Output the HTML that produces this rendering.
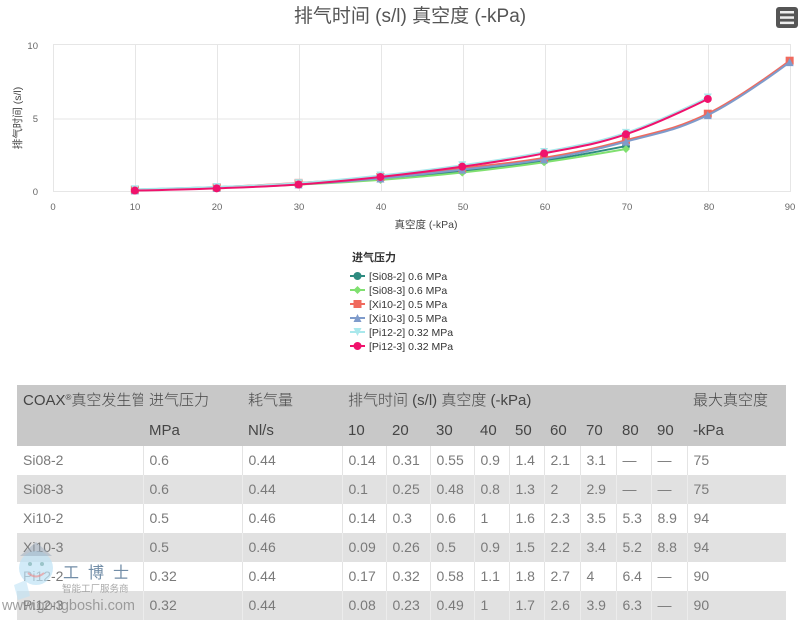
<!DOCTYPE html>
<html><head><meta charset="utf-8">
<style>
html,body{margin:0;padding:0;background:#fff;}
body{width:800px;height:625px;position:relative;overflow:hidden;font-family:"Liberation Sans","Noto Sans CJK SC",sans-serif;}
svg text{font-family:"Liberation Sans","Noto Sans CJK SC",sans-serif;}
#tbl{position:absolute;left:17px;top:385px;border-collapse:collapse;table-layout:fixed;width:769px;}
#tbl td{padding:0 0 0 6px;white-space:nowrap;overflow:hidden;font-size:14px;color:#7a7a7a;height:29px;line-height:29px;font-weight:300;box-sizing:border-box;}
#tbl tr{height:29px;}
#tbl tr.h td{background:#c8c8c8;color:#454545;font-size:15px;border:none;}
#tbl tr.h1{height:31px;}
#tbl tr.h1 td{height:31px;line-height:31px;}
#tbl tr.h2{height:30px;}
#tbl tr.h2 td{height:30px;line-height:30px;}
#tbl tr.w td{background:#fff;border-left:1px solid #e4e4e4;}
#tbl tr.g td{background:#e1e1e1;border-left:1px solid #ececec;}
#tbl tr.w td:first-child,#tbl tr.g td:first-child{border-left:none;}
.reg{font-size:8px;position:relative;top:-5px;line-height:0;}
.wm{position:absolute;pointer-events:none;}
</style></head><body>
<svg id="chart" width="800" height="370" style="position:absolute;left:0;top:0" xmlns="http://www.w3.org/2000/svg">
<text x="410" y="22" text-anchor="middle" font-size="19" fill="#555">排气时间 (s/l) 真空度 (-kPa)</text>
<rect x="776" y="7" width="22" height="21" rx="3" fill="#555"/>
<rect x="780" y="11" width="14" height="2.5" fill="#eee"/>
<rect x="780" y="16.3" width="14" height="2.5" fill="#eee"/>
<rect x="780" y="21.6" width="14" height="2.5" fill="#eee"/>
<g stroke="#e6e6e6" stroke-width="1">
<line x1="53" y1="44.5" x2="790" y2="44.5"/>
<line x1="53" y1="119" x2="790" y2="119"/>
<line x1="53" y1="191.5" x2="790" y2="191.5"/>
<line x1="53.5" y1="44" x2="53.5" y2="192"/>
<line x1="135.5" y1="44" x2="135.5" y2="192"/>
<line x1="217.5" y1="44" x2="217.5" y2="192"/>
<line x1="299.5" y1="44" x2="299.5" y2="192"/>
<line x1="381.5" y1="44" x2="381.5" y2="192"/>
<line x1="463.5" y1="44" x2="463.5" y2="192"/>
<line x1="545.5" y1="44" x2="545.5" y2="192"/>
<line x1="626.5" y1="44" x2="626.5" y2="192"/>
<line x1="708.5" y1="44" x2="708.5" y2="192"/>
<line x1="790.5" y1="44" x2="790.5" y2="192"/>
</g>
<g font-size="9.5" fill="#666" text-anchor="end">
<text x="38" y="49">10</text>
<text x="38" y="122">5</text>
<text x="38" y="195">0</text>
</g>
<g font-size="9.5" fill="#666" text-anchor="middle">
<text x="53" y="210">0</text>
<text x="135" y="210">10</text>
<text x="217" y="210">20</text>
<text x="299" y="210">30</text>
<text x="381" y="210">40</text>
<text x="463" y="210">50</text>
<text x="545" y="210">60</text>
<text x="627" y="210">70</text>
<text x="709" y="210">80</text>
<text x="790" y="210">90</text>
</g>
<text x="426" y="228" text-anchor="middle" font-size="10.5" fill="#444">真空度 (-kPa)</text>
<text transform="translate(21,118) rotate(-90)" text-anchor="middle" font-size="10.5" fill="#444">排气时间 (s/l)</text>
<g id="series"></g>
<text x="352" y="261" font-size="11" font-weight="bold" fill="#333">进气压力</text>
<g id="legend"></g>
<g font-size="10.5" fill="#333">
<text x="369" y="280">[Si08-2] 0.6 MPa</text>
<text x="369" y="294">[Si08-3] 0.6 MPa</text>
<text x="369" y="308">[Xi10-2] 0.5 MPa</text>
<text x="369" y="322">[Xi10-3] 0.5 MPa</text>
<text x="369" y="336">[Pi12-2] 0.32 MPa</text>
<text x="369" y="350">[Pi12-3] 0.32 MPa</text>
</g>
</svg>

<table id="tbl">
<colgroup><col style="width:126px"><col style="width:99px"><col style="width:100px"><col style="width:44px"><col style="width:44px"><col style="width:44px"><col style="width:35px"><col style="width:35px"><col style="width:36px"><col style="width:36px"><col style="width:35px"><col style="width:36px"><col style="width:99px"></colgroup>
<tr class="h h1"><td>COAX<span class="reg">®</span>真空发生管</td><td>进气压力</td><td>耗气量</td><td colspan="9">排气时间 (s/l) 真空度 (-kPa)</td><td>最大真空度</td></tr>
<tr class="h h2"><td></td><td>MPa</td><td>Nl/s</td><td>10</td><td>20</td><td>30</td><td>40</td><td>50</td><td>60</td><td>70</td><td>80</td><td>90</td><td>-kPa</td></tr>
<tr class="w"><td>Si08-2</td><td>0.6</td><td>0.44</td><td>0.14</td><td>0.31</td><td>0.55</td><td>0.9</td><td>1.4</td><td>2.1</td><td>3.1</td><td>—</td><td>—</td><td>75</td></tr>
<tr class="g"><td>Si08-3</td><td>0.6</td><td>0.44</td><td>0.1</td><td>0.25</td><td>0.48</td><td>0.8</td><td>1.3</td><td>2</td><td>2.9</td><td>—</td><td>—</td><td>75</td></tr>
<tr class="w"><td>Xi10-2</td><td>0.5</td><td>0.46</td><td>0.14</td><td>0.3</td><td>0.6</td><td>1</td><td>1.6</td><td>2.3</td><td>3.5</td><td>5.3</td><td>8.9</td><td>94</td></tr>
<tr class="g"><td>Xi10-3</td><td>0.5</td><td>0.46</td><td>0.09</td><td>0.26</td><td>0.5</td><td>0.9</td><td>1.5</td><td>2.2</td><td>3.4</td><td>5.2</td><td>8.8</td><td>94</td></tr>
<tr class="w"><td>Pi12-2</td><td>0.32</td><td>0.44</td><td>0.17</td><td>0.32</td><td>0.58</td><td>1.1</td><td>1.8</td><td>2.7</td><td>4</td><td>6.4</td><td>—</td><td>90</td></tr>
<tr class="g"><td>Pi12-3</td><td>0.32</td><td>0.44</td><td>0.08</td><td>0.23</td><td>0.49</td><td>1</td><td>1.7</td><td>2.6</td><td>3.9</td><td>6.3</td><td>—</td><td>90</td></tr>
</table>

<!-- watermark -->
<svg class="wm" style="left:0;top:530px" width="160" height="95" xmlns="http://www.w3.org/2000/svg">
<circle cx="36" cy="38" r="17" fill="#bfe3f5" opacity="0.7"/>
<circle cx="30" cy="34" r="2" fill="#7aa" opacity="0.6"/>
<circle cx="42" cy="34" r="2" fill="#7aa" opacity="0.6"/>
<path d="M28 43 Q36 50 44 43" stroke="#e88" stroke-width="2" fill="none" opacity="0.6"/>
<path d="M20 26 L36 12 L52 26 Z" fill="#9ab" opacity="0.5"/>
<path d="M14 55 L26 50 L30 66 L18 70 Z" fill="#bfe3f5" opacity="0.6"/>
<text x="63" y="48" font-size="16" fill="#5a7a98" opacity="0.85" letter-spacing="9" font-family="Noto Sans CJK SC, sans-serif">工博士</text>
<text x="62" y="62" font-size="9.5" fill="#999" opacity="0.85" font-family="Noto Sans CJK SC, sans-serif">智能工厂服务商</text>
<text x="2" y="80" font-size="14.5" fill="#8a8a8a" opacity="0.8" font-family="DejaVu Sans, sans-serif">www.gongboshi.com</text>
</svg>

<script>
(function(){
var X=function(v){return 53+v*8.185;};
var Y=function(v){return 191.7-v*14.72;};
var xs=[10,20,30,40,50,60,70,80,90];
var S=[
 {c:'#2e8b80',s:'circle',d:[0.14,0.31,0.55,0.9,1.4,2.1,3.1]},
 {c:'#80e070',s:'diamond',d:[0.1,0.25,0.48,0.8,1.3,2,2.9]},
 {c:'#f06a5e',s:'square',d:[0.14,0.3,0.6,1,1.6,2.3,3.5,5.3,8.9]},
 {c:'#7f9bcb',s:'triangle',d:[0.09,0.26,0.5,0.9,1.5,2.2,3.4,5.2,8.8]},
 {c:'#a9e8ec',s:'tdown',d:[0.17,0.32,0.58,1.1,1.8,2.7,4,6.4]},
 {c:'#f0126c',s:'circle',d:[0.08,0.23,0.49,1,1.7,2.6,3.9,6.3]}
];
var NS='http://www.w3.org/2000/svg';
function el(n,a,p){var e=document.createElementNS(NS,n);for(var k in a)e.setAttribute(k,a[k]);p.appendChild(e);return e;}
function spline(pts){
 var sm=1.5,den=2.5,d='M'+pts[0].x+' '+pts[0].y;
 for(var i=1;i<pts.length;i++){
  var p=pts[i],l=pts[i-1],n=pts[i+1],lcx=p.x,lcy=p.y;
  if(n){
   lcx=(sm*p.x+l.x)/den;lcy=(sm*p.y+l.y)/den;
   var rcx=(sm*p.x+n.x)/den,rcy=(sm*p.y+n.y)/den;
   var corr=((rcy-lcy)*(rcx-p.x))/(rcx-lcx)+p.y-rcy;
   lcy+=corr;rcy+=corr;
   if(lcy>Math.max(l.y,p.y)){lcy=Math.max(l.y,p.y);rcy=2*p.y-lcy;}
   else if(lcy<Math.min(l.y,p.y)){lcy=Math.min(l.y,p.y);rcy=2*p.y-lcy;}
   if(rcy>Math.max(n.y,p.y)){rcy=Math.max(n.y,p.y);lcy=2*p.y-rcy;}
   else if(rcy<Math.min(n.y,p.y)){rcy=Math.min(n.y,p.y);lcy=2*p.y-rcy;}
   p.rcx=rcx;p.rcy=rcy;
  }
  d+=' C'+(l.rcx!==undefined?l.rcx:l.x)+' '+(l.rcy!==undefined?l.rcy:l.y)+' '+lcx+' '+lcy+' '+p.x+' '+p.y;
 }
 return d;
}
function marker(g,s,x,y,c,r){
 r=r||4;
 if(s==='circle')el('circle',{cx:x,cy:y,r:r,fill:c},g);
 else if(s==='square')el('rect',{x:x-r,y:y-r,width:2*r,height:2*r,fill:c},g);
 else if(s==='diamond')el('path',{d:'M'+x+' '+(y-r)+' L'+(x+r)+' '+y+' L'+x+' '+(y+r)+' L'+(x-r)+' '+y+'Z',fill:c},g);
 else if(s==='triangle')el('path',{d:'M'+x+' '+(y-r)+' L'+(x+r)+' '+(y+r)+' L'+(x-r)+' '+(y+r)+'Z',fill:c},g);
 else el('path',{d:'M'+(x-r)+' '+(y-r)+' L'+(x+r)+' '+(y-r)+' L'+x+' '+(y+r)+'Z',fill:c},g);
}
var g=document.getElementById('series'),lg=document.getElementById('legend');
S.forEach(function(s,i){
 var pts=s.d.map(function(v,j){return {x:X(xs[j]),y:Y(v)};});
 el('path',{d:spline(pts),stroke:s.c,'stroke-width':2,fill:'none'},g);
 pts.forEach(function(p){marker(g,s.s,p.x,p.y,s.c,4);});
 var ly=276+i*14;
 el('line',{x1:350,y1:ly,x2:365,y2:ly,stroke:s.c,'stroke-width':2},lg);
 marker(lg,s.s,357.5,ly,s.c,4);
});
})();
</script>
</body></html>
